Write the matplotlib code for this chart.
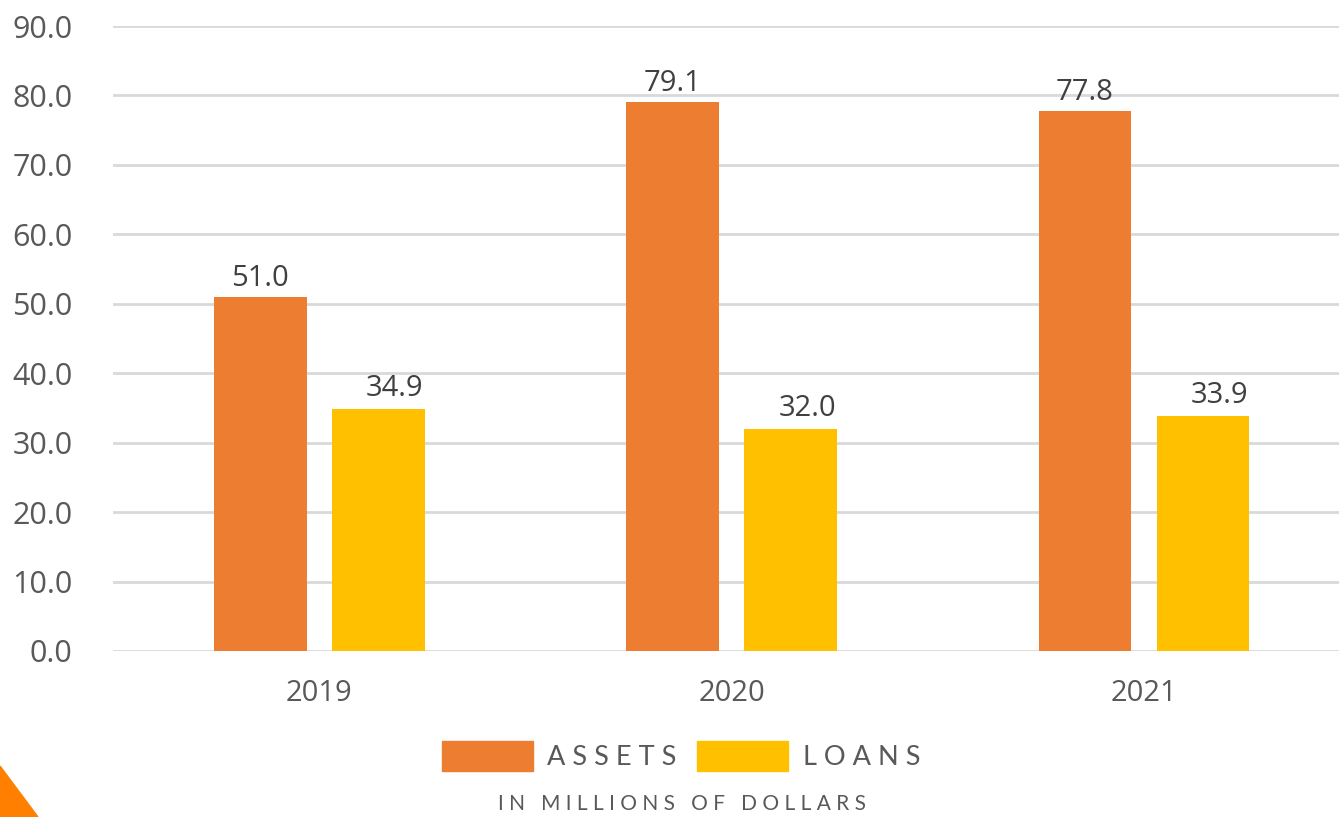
import matplotlib
matplotlib.use('Agg')
import matplotlib.pyplot as plt
import matplotlib.patches as mpatches
import numpy as np

years = ['2019', '2020', '2021']
assets = [51.0, 79.1, 77.8]
loans = [34.9, 32.0, 33.9]
yticks = np.arange(0, 100, 10)

c_assets = '#ED7D31'
c_loans = '#FFC000'

plt.rcParams['font.family'] = ['Open Sans', 'DejaVu Sans']

fig = plt.figure(figsize=(13.39, 8.17), dpi=100)
ax = fig.add_axes([113/1339, 1-651/817, (1339-113)/1339, (651-26)/817])

x = np.arange(len(years))
w = 0.225
b1 = ax.bar(x - 0.143, assets, w, color=c_assets, zorder=3)
b2 = ax.bar(x + 0.143, loans, w, color=c_loans, zorder=3)

for r, v in zip(b1, assets):
    ax.annotate('%.1f' % v, (r.get_x() + r.get_width()/2, v), xytext=(0, 3),
                textcoords='offset points', ha='center', va='bottom', fontsize=21, color='#404040')
for r, v in zip(b2, loans):
    ax.annotate('%.1f' % v, (r.get_x() + r.get_width()/2, v), xytext=(12, 4),
                textcoords='offset points', ha='center', va='bottom', fontsize=21, color='#404040')

ax.set_xlim(-0.5, 2.473)
ax.set_ylim(0, 90)
ax.set_yticks(yticks)
ax.set_yticklabels(['%.1f' % t for t in yticks])
ax.set_xticks(x)
ax.set_xticklabels(years)
ax.tick_params(axis='y', length=0, pad=29, labelsize=22, labelcolor='#595959')
ax.tick_params(axis='x', length=0, pad=20, labelsize=21, labelcolor='#595959')
ax.grid(axis='y', color='#d9d9d9', lw=2, zorder=0)
for s in ax.spines.values():
    s.set_visible(False)

# legend
leg_font = dict(family=['Lato', 'DejaVu Sans'], size=19.5)
h1 = mpatches.Patch(color=c_assets, label='A S S E T S')
h2 = mpatches.Patch(color=c_loans, label='L O A N S')
leg = fig.legend(handles=[h1, h2], loc='center', bbox_to_anchor=(681/1339, 1-756/817), ncol=2,
                 frameon=False, prop=leg_font, handlelength=3.36, handleheight=1.37,
                 handletextpad=0.55, columnspacing=0.75, labelcolor='#595959')

fig.text(682/1339, 1-804/817, 'I N   M I L L I O N S   O F   D O L L A R S', ha='center', va='center',
         fontsize=15, family=['Lato', 'DejaVu Sans'], color='#595959')

# corner decoration
tri = mpatches.Polygon([(0, 0), (38/1339, 0), (0, 51/817)], closed=True,
                       transform=fig.transFigure, color='#FF8000')
fig.add_artist(tri)

fig.savefig('out.png', dpi=100)
